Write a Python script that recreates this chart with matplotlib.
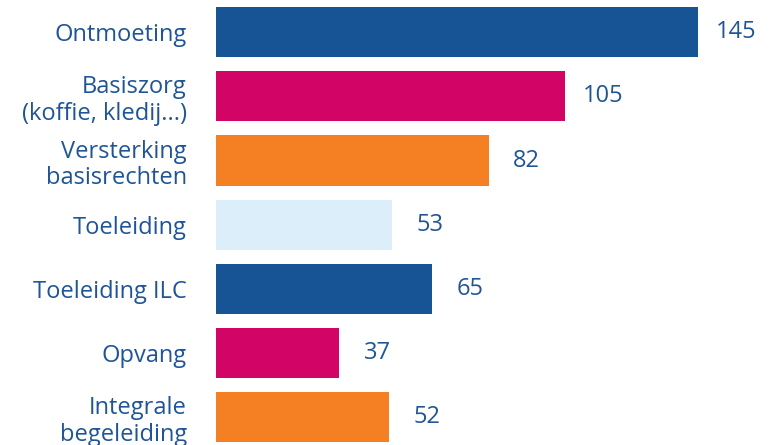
import matplotlib.pyplot as plt

plt.rcParams['font.family'] = ['Open Sans', 'DejaVu Sans']

categories = ['Ontmoeting', 'Basiszorg\n(koffie, kledij...)', 'Versterking\nbasisrechten',
              'Toeleiding', 'Toeleiding ILC', 'Opvang', 'Integrale\nbegeleiding']
values = [145, 105, 82, 53, 65, 37, 52]
colors = ['#175496', '#d20566', '#f58024', '#dbeefa', '#175496', '#d20566', '#f58024']

text_color = '#1f5597'

fig = plt.figure(figsize=(7.82, 4.45), dpi=100)
ax = fig.add_axes([216 / 782, 0, 1 - 216 / 782, 1])

pos = list(range(len(values)))
ax.barh(pos, values, height=0.78, color=colors)

for p, v in zip(pos, values):
    ax.text(v + 11.5, p, str(v), ha='center', va='center', fontsize=17, color=text_color)

ax.set_xlim(0, 170.3)
ax.set_ylim(6.43, -0.5)
ax.set_yticks(pos)
ax.set_yticklabels(categories, fontsize=17, color=text_color, linespacing=1.15)
ax.tick_params(axis='y', length=0, pad=21)
ax.set_xticks([])
for s in ax.spines.values():
    s.set_visible(False)

fig.savefig('out.png', dpi=100)
